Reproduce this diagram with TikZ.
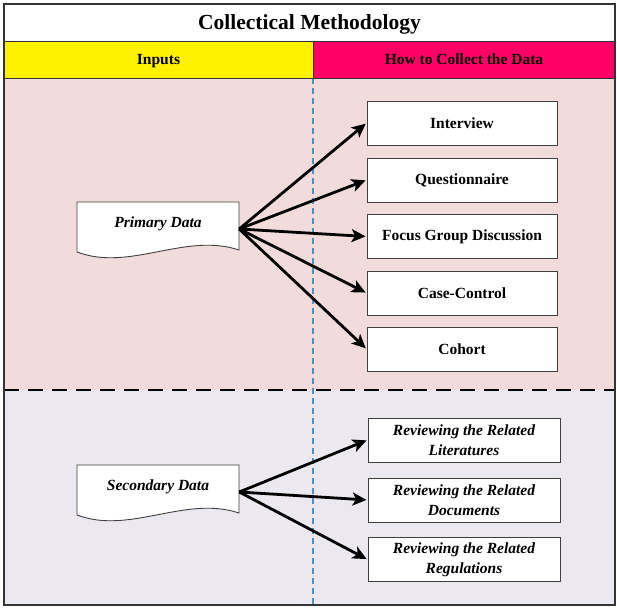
\documentclass[tikz,border=0pt]{standalone}
\usepackage{fontspec}
\setmainfont{Liberation Serif}
\usetikzlibrary{arrows.meta}

\definecolor{upperpink}{HTML}{F2DCDB}
\definecolor{lowerlilac}{HTML}{EBE8F0}
\definecolor{headpink}{HTML}{FF0066}
\definecolor{splitblue}{HTML}{4A90D0}

\begin{document}
\begin{tikzpicture}[x=1pt, y=-1pt,
        cell/.style={rectangle, draw=black!80, line width=0.8pt, minimum width=302pt, minimum height=37pt, inner sep=0pt, text depth=0pt, font=\fontsize{15.5}{17}\selectfont\bfseries},
        method/.style={rectangle, draw=black!75, fill=white, line width=0.9pt, minimum width=190pt, minimum height=44pt, inner sep=0pt, align=center, font=\fontsize{15.5}{17}\selectfont\bfseries},
        review/.style={method, minimum width=192pt, font=\fontsize{15.5}{20}\selectfont\bfseries\itshape},
        source/.style={rectangle, minimum width=162pt, minimum height=44pt, inner sep=0pt, font=\fontsize{15.5}{17}\selectfont\bfseries\itshape},
        docline/.style={draw=black!75, fill=white, line width=0.9pt},
        arrow/.style={-{Stealth[length=14pt, width=13pt, inset=3.5pt]}, line width=2.8pt, shorten >=1pt}
    ]
        \useasboundingbox (0,0) rectangle (617,609);

        % sections
        \fill[upperpink] (4,78) rectangle (615,390);
        \fill[lowerlilac] (4,390) rectangle (615,605);
        \draw[splitblue, line width=1.1pt, dash pattern=on 6pt off 4pt] (313,78) -- (313,605);
        \draw[line width=1.9pt, dash pattern=on 15pt off 9pt] (4,390) -- (615,390);

        % header
        \node[cell, fill=white, minimum width=611pt, font=\fontsize{21.5}{24}\selectfont\bfseries] (title) at (309.5,22.5) {Collectical Methodology};
        \node[cell, fill=yellow, minimum width=309pt] (inputs) at (158.5,59.5) {Inputs};
        \node[cell, fill=headpink] (howto) at (464,59.5) {How to Collect the Data};
        \draw[black!80, line width=1.2pt] (4,4) rectangle (615,605);

        % document shapes
        \draw[docline] (77,202) -- (239,202) -- (239,250) .. controls (185,232) and (130,272) .. (77,252) -- cycle;
        \draw[docline] (77,465) -- (239,465) -- (239,513) .. controls (185,495) and (130,535) .. (77,515) -- cycle;
        \node[source] (primary) at (158,224) {Primary Data};
        \node[source] (secondary) at (158,487) {Secondary Data};

        % ways of collecting
        \node[method] (interview) at (462,123) {Interview};
        \node[method] (questionnaire) at (462,180) {Questionnaire};
        \node[method] (focus) at (462,236.5) {Focus Group Discussion};
        \node[method] (casecontrol) at (462,293) {Case-Control};
        \node[method] (cohort) at (462,349) {Cohort};

        \node[review] (literatures) at (464,440) {Reviewing the Related\\Literatures};
        \node[review] (documents) at (464,500) {Reviewing the Related\\Documents};
        \node[review] (regulations) at (464,559.5) {Reviewing the Related\\Regulations};

        \draw[arrow] ([yshift=-5pt]primary.east) -- (interview.west);
        \draw[arrow] ([yshift=-5pt]primary.east) -- (questionnaire.west);
        \draw[arrow] ([yshift=-5pt]primary.east) -- (focus.west);
        \draw[arrow] ([yshift=-5pt]primary.east) -- (casecontrol.west);
        \draw[arrow] ([yshift=-5pt]primary.east) -- (cohort.west);

        \draw[arrow] ([yshift=-5pt]secondary.east) -- (literatures.west);
        \draw[arrow] ([yshift=-5pt]secondary.east) -- (documents.west);
        \draw[arrow] ([yshift=-5pt]secondary.east) -- (regulations.west);
    \end{tikzpicture}
\end{document}
